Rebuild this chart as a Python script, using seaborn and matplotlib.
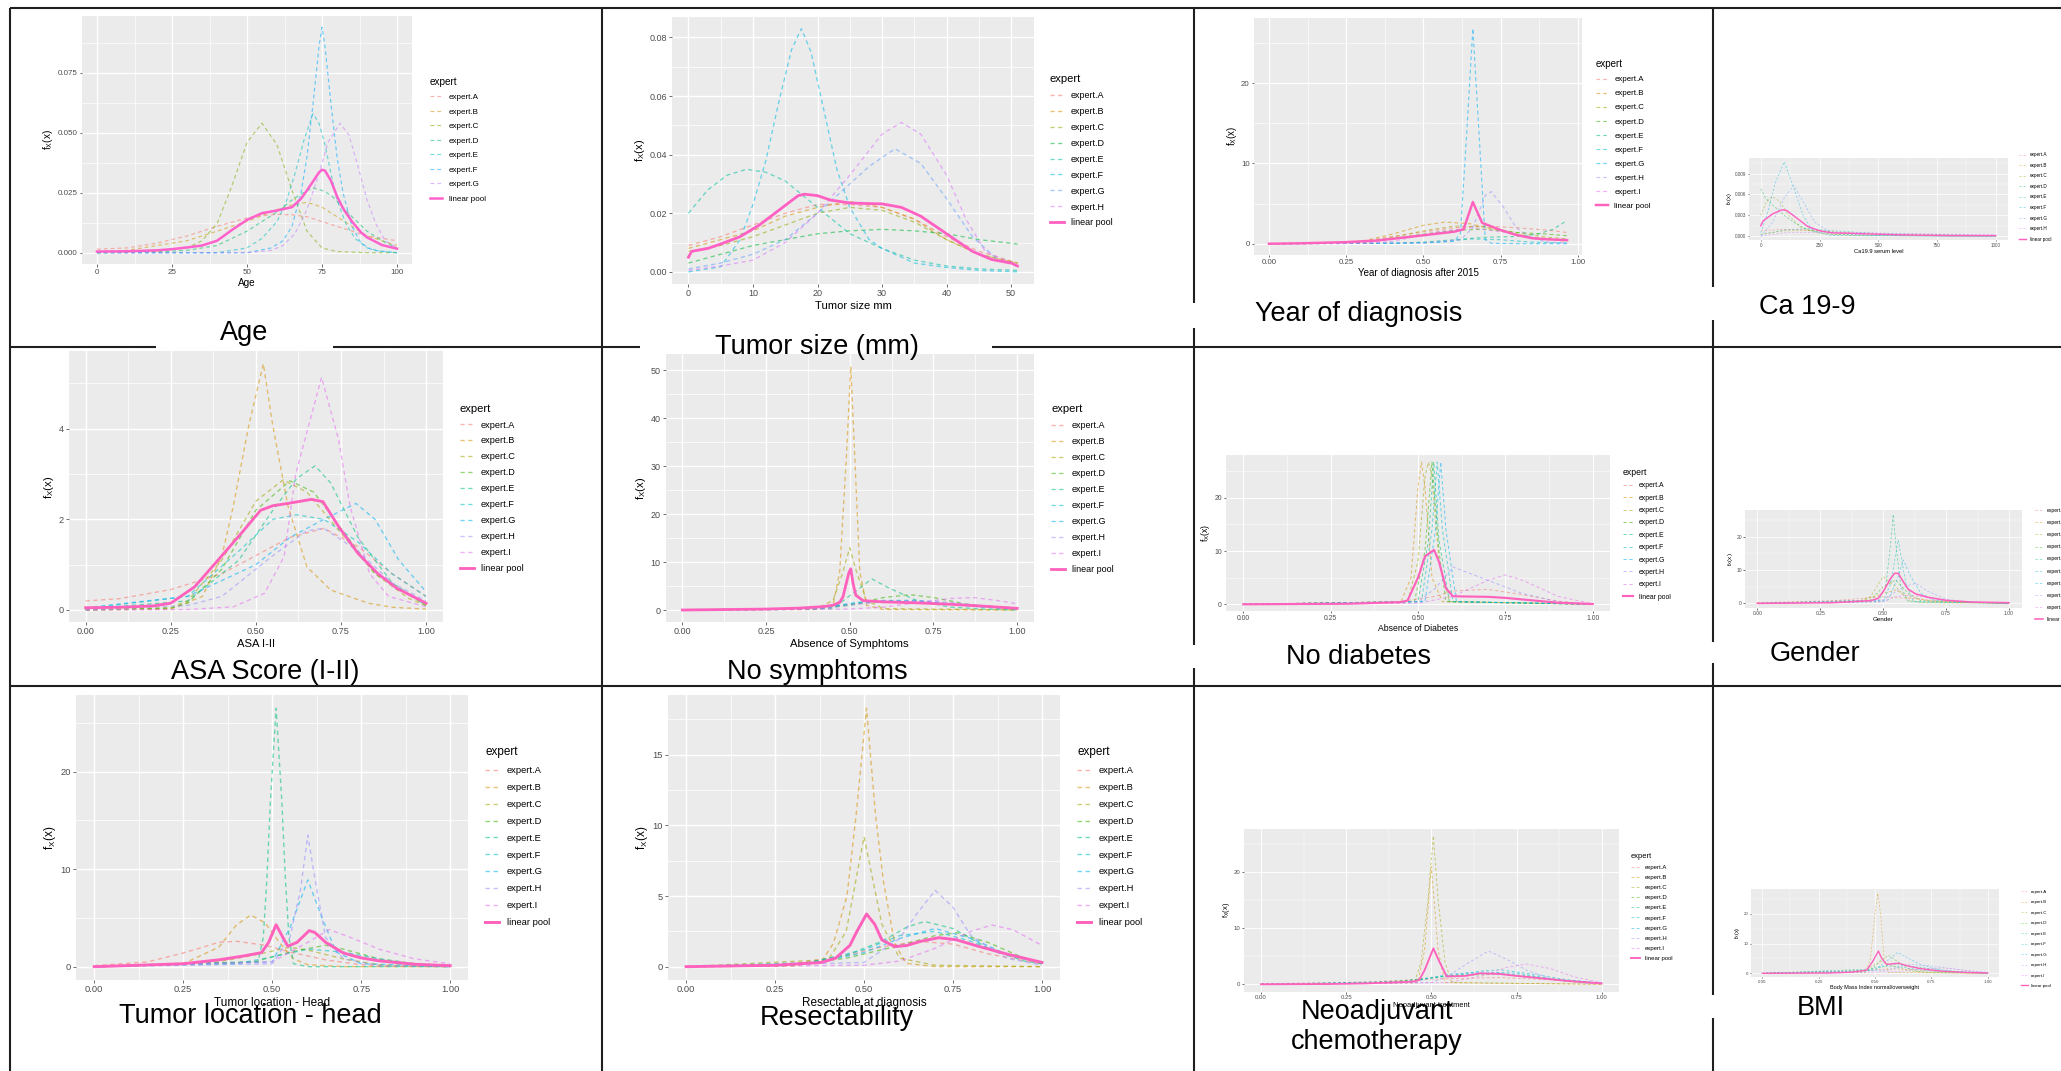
"""
Expert elicitation densities: one ggplot-style panel per variable, laid out in a table.
"""

import matplotlib
matplotlib.use("Agg")
import matplotlib.pyplot as plt
import seaborn as sns

plt.rcParams["font.family"] = ["Liberation Sans", "DejaVu Sans"]
plt.rcParams["mathtext.fontset"] = "custom"
plt.rcParams["mathtext.rm"] = "Liberation Sans"
plt.rcParams["mathtext.it"] = "Liberation Sans:italic"

W, H = 2061, 1071

# ggplot default hue palettes (last colour = linear pool)
HUE8 = ["#F8766D", "#CD9600", "#7CAE00", "#00BE67", "#00BFC4", "#00A9FF", "#C77CFF", "#FF61CC"]
HUE9 = ["#F8766D", "#D39200", "#93AA00", "#00BA38", "#00C19F", "#00B9E3", "#619CFF", "#DB72FB", "#FF61C3"]
HUE10 = ["#F8766D", "#D89000", "#A3A500", "#39B600", "#00BF7D", "#00BFC4", "#00B0F6", "#9590FF", "#E76BF3", "#FF62BC"]

UNIT_TICKS = [0, 0.25, 0.5, 0.75, 1.0]
UNIT_LABELS = ["0.00", "0.25", "0.50", "0.75", "1.00"]

# ---- curves: name -> (x, density) ----
AGE = {
    "expert.A": ([0, 10, 20, 30, 40, 50, 55, 60, 65, 70, 75, 80, 85, 90, 95, 100],
                 [0.0015, 0.002, 0.004, 0.007, 0.011, 0.0145, 0.0155, 0.016, 0.0158, 0.015, 0.013, 0.011, 0.009, 0.007, 0.006, 0.005]),
    "expert.B": ([0, 10, 20, 30, 40, 50, 60, 65, 70, 75, 80, 85, 90, 95, 100],
                 [0.0005, 0.001, 0.003, 0.005, 0.009, 0.013, 0.018, 0.02, 0.021, 0.019, 0.015, 0.011, 0.007, 0.005, 0.003]),
    "expert.C": ([0, 20, 30, 35, 40, 45, 50, 55, 60, 65, 70, 75, 80, 90, 100],
                 [0, 0.0005, 0.002, 0.005, 0.012, 0.028, 0.046, 0.054, 0.045, 0.026, 0.009, 0.002, 0.0005, 0, 0]),
    "expert.D": ([0, 20, 30, 40, 45, 50, 55, 60, 65, 70, 72, 75, 78, 82, 85, 90, 95, 100],
                 [0, 0.0003, 0.001, 0.003, 0.006, 0.009, 0.013, 0.017, 0.022, 0.026, 0.027, 0.026, 0.024, 0.019, 0.015, 0.009, 0.005, 0.002]),
    "expert.E": ([0, 40, 50, 55, 60, 63, 66, 69, 72, 74, 76, 78, 80, 83, 86, 90, 95, 100],
                 [0, 0, 0.002, 0.006, 0.013, 0.021, 0.033, 0.047, 0.058, 0.054, 0.045, 0.033, 0.022, 0.012, 0.006, 0.002, 0.0005, 0]),
    "expert.F": ([0, 50, 58, 62, 65, 68, 70, 72, 74, 75, 76, 78, 80, 82, 85, 88, 92, 100],
                 [0, 0, 0.002, 0.005, 0.011, 0.025, 0.04, 0.062, 0.086, 0.094, 0.086, 0.062, 0.04, 0.025, 0.011, 0.004, 0.001, 0]),
    "expert.G": ([0, 50, 58, 62, 66, 70, 74, 77, 81, 84, 87, 90, 93, 96, 100],
                 [0, 0, 0.001, 0.003, 0.008, 0.018, 0.033, 0.046, 0.054, 0.049, 0.036, 0.022, 0.012, 0.005, 0.002]),
    "linear pool": ([0, 10, 20, 25, 30, 35, 40, 45, 50, 55, 60, 65, 68, 70, 72, 74, 75, 76, 78, 80, 82, 85, 88, 90, 95, 100],
                    [0.0005, 0.0006, 0.001, 0.0015, 0.0022, 0.003, 0.005, 0.0095, 0.0137, 0.0165, 0.0176, 0.019, 0.0225, 0.026,
                     0.0297, 0.0335, 0.0346, 0.0342, 0.03, 0.0235, 0.0185, 0.013, 0.0085, 0.0064, 0.0032, 0.0017]),
}

TUMOR = {
    "expert.A": ([0, 5, 10, 15, 20, 25, 30, 35, 40, 45, 51],
                 [0.009, 0.012, 0.016, 0.02, 0.023, 0.023, 0.022, 0.018, 0.012, 0.007, 0.003]),
    "expert.B": ([0, 5, 10, 15, 20, 25, 30, 35, 40, 45, 51],
                 [0.008, 0.011, 0.014, 0.019, 0.022, 0.024, 0.022, 0.018, 0.011, 0.006, 0.003]),
    "expert.C": ([0, 5, 10, 15, 20, 25, 30, 35, 40, 45, 51],
                 [0.007, 0.009, 0.012, 0.016, 0.02, 0.022, 0.021, 0.017, 0.011, 0.006, 0.003]),
    "expert.D": ([0, 5, 10, 15, 20, 25, 30, 35, 40, 45, 51],
                 [0.003, 0.006, 0.009, 0.011, 0.013, 0.014, 0.0145, 0.014, 0.013, 0.011, 0.0095]),
    "expert.E": ([0, 3, 6, 9, 12, 15, 20, 25, 30, 35, 40, 45, 51],
                 [0.02, 0.028, 0.033, 0.035, 0.034, 0.031, 0.022, 0.013, 0.008, 0.004, 0.002, 0.001, 0.0005]),
    "expert.F": ([0, 5, 8, 10, 12, 14, 16, 17.5, 19, 21, 23, 25, 28, 30, 35, 40, 45, 51],
                 [0, 0.0017, 0.011, 0.023, 0.038, 0.058, 0.076, 0.083, 0.075, 0.055, 0.035, 0.022, 0.011, 0.008, 0.003, 0.0015, 0.0005, 0]),
    "expert.G": ([0, 5, 10, 15, 20, 25, 28, 32, 36, 40, 44, 48, 51],
                 [0.001, 0.003, 0.006, 0.011, 0.02, 0.03, 0.036, 0.042, 0.037, 0.025, 0.012, 0.004, 0.002]),
    "expert.H": ([0, 5, 10, 15, 20, 25, 30, 33, 36, 40, 43, 46, 51],
                 [0.0005, 0.002, 0.004, 0.01, 0.02, 0.033, 0.047, 0.051, 0.047, 0.033, 0.018, 0.007, 0.002]),
    "linear pool": ([0, 0.5, 3, 5, 8, 11, 14, 17, 18, 20, 22, 25, 28, 30, 33, 36, 40, 44, 47, 50, 51],
                    [0.005, 0.007, 0.008, 0.0095, 0.012, 0.016, 0.021, 0.026, 0.0265, 0.026, 0.0245, 0.0235, 0.0233, 0.0232,
                     0.022, 0.019, 0.013, 0.007, 0.0042, 0.003, 0.002]),
}

YEAR = {
    "expert.A": ([0, 0.2, 0.3, 0.45, 0.6, 0.7, 0.8, 0.9, 0.965], [0, 0.1, 0.3, 1.2, 2.0, 2.2, 2.0, 1.7, 1.4]),
    "expert.B": ([0, 0.2, 0.3, 0.4, 0.5, 0.57, 0.65, 0.75, 0.85, 0.965], [0, 0.05, 0.3, 1.2, 2.3, 2.7, 2.5, 1.6, 0.8, 0.3]),
    "expert.C": ([0, 0.3, 0.4, 0.5, 0.6, 0.7, 0.8, 0.9, 0.965], [0, 0.2, 0.8, 1.6, 2.2, 2.1, 1.4, 0.8, 0.6]),
    "expert.D": ([0, 0.3, 0.4, 0.5, 0.6, 0.7, 0.8, 0.9, 0.965], [0, 0.15, 0.6, 1.2, 1.7, 1.8, 1.4, 1.2, 1.0]),
    "expert.E": ([0, 0.4, 0.5, 0.6, 0.7, 0.8, 0.87, 0.92, 0.965], [0, 0.05, 0.2, 0.5, 0.8, 0.9, 1.2, 1.8, 2.9]),
    "expert.F": ([0, 0.4, 0.55, 0.65, 0.75, 0.85, 0.965], [0, 0.05, 0.2, 0.6, 0.5, 0.2, 0.1]),
    "expert.G": ([0, 0.5, 0.6, 0.62, 0.64, 0.66, 0.68, 0.7, 0.72, 0.8, 0.965], [0, 0.1, 0.3, 1.3, 13.7, 26.8, 13.7, 0.5, 0.05, 0, 0]),
    "expert.H": ([0, 0.5, 0.62, 0.66, 0.7, 0.72, 0.76, 0.8, 0.85, 0.9, 0.965], [0, 0.1, 0.5, 2.0, 6.0, 6.5, 4.5, 2.0, 0.7, 0.2, 0.1]),
    "expert.I": ([0, 0.3, 0.4, 0.55, 0.65, 0.75, 0.85, 0.965], [0, 0.05, 0.3, 1.5, 2.0, 1.5, 0.8, 0.4]),
    "linear pool": ([0, 0.1, 0.25, 0.35, 0.5, 0.6, 0.63, 0.66, 0.69, 0.75, 0.8, 0.85, 0.9, 0.965],
                    [0, 0.05, 0.2, 0.4, 1.05, 1.5, 1.8, 5.2, 2.6, 1.7, 1.1, 0.7, 0.55, 0.45]),
}

CA199 = {
    "expert.A": ([0, 100, 200, 300, 500, 750, 1000], [0.0008, 0.001, 0.0009, 0.0006, 0.0003, 0.0002, 0.0001]),
    "expert.B": ([0, 100, 250, 400, 600, 1000], [0.0003, 0.0008, 0.0008, 0.0004, 0.0002, 0.0001]),
    "expert.C": ([0, 25, 50, 80, 120, 170, 250, 400, 1000], [0.003, 0.005, 0.0057, 0.005, 0.003, 0.0013, 0.0004, 0.0001, 0]),
    "expert.D": ([0, 20, 50, 100, 150, 200, 300, 500, 1000], [0.0068, 0.0055, 0.0045, 0.003, 0.0018, 0.0009, 0.0003, 0.0001, 0]),
    "expert.E": ([0, 100, 200, 300, 500, 1000], [0.0002, 0.0009, 0.0011, 0.0008, 0.0004, 0.0001]),
    "expert.F": ([0, 30, 60, 100, 140, 180, 220, 300, 1000], [0.0005, 0.0035, 0.0075, 0.0107, 0.007, 0.003, 0.0008, 0.0001, 0]),
    "expert.G": ([0, 50, 100, 140, 180, 230, 300, 500, 1000], [0, 0.002, 0.0055, 0.0073, 0.005, 0.002, 0.0005, 0.0001, 0]),
    "expert.H": ([0, 100, 300, 600, 1000], [0, 0.0005, 0.0006, 0.0004, 0.0002]),
    "linear pool": ([0, 10, 50, 90, 110, 150, 200, 250, 300, 400, 600, 800, 1000],
                    [0.0015, 0.0022, 0.0032, 0.0038, 0.0037, 0.0027, 0.0014, 0.0008, 0.0005, 0.0004, 0.0002, 0.0001, 0.0001]),
}

ASA = {
    "expert.A": ([0, 0.1, 0.25, 0.4, 0.5, 0.6, 0.7, 0.8, 0.9, 1.0], [0.2, 0.25, 0.45, 0.8, 1.2, 1.6, 1.8, 1.4, 0.8, 0.3]),
    "expert.B": ([0, 0.25, 0.343, 0.4, 0.434, 0.48, 0.522, 0.549, 0.594, 0.65, 0.72, 0.83, 0.9, 1.0],
                 [0, 0.02, 0.3, 1.18, 2.3, 4.1, 5.43, 4.1, 2.3, 0.95, 0.44, 0.15, 0.06, 0.02]),
    "expert.C": ([0, 0.25, 0.3, 0.4, 0.5, 0.58, 0.65, 0.75, 0.85, 0.95, 1.0], [0, 0.05, 0.2, 1.1, 2.4, 2.87, 2.6, 1.7, 0.8, 0.25, 0.1]),
    "expert.D": ([0, 0.25, 0.3, 0.4, 0.5, 0.6, 0.67, 0.75, 0.85, 1.0], [0, 0.04, 0.15, 0.9, 2.2, 2.85, 2.6, 1.8, 0.8, 0.1]),
    "expert.E": ([0, 0.3, 0.45, 0.55, 0.62, 0.674, 0.72, 0.8, 0.9, 1.0], [0.02, 0.2, 1.1, 2.2, 2.9, 3.18, 2.8, 1.6, 0.6, 0.1]),
    "expert.F": ([0, 0.3, 0.45, 0.55, 0.62, 0.7, 0.8, 0.9, 1.0], [0.03, 0.3, 1.3, 2.0, 2.1, 2.0, 1.5, 0.8, 0.3]),
    "expert.G": ([0, 0.3, 0.5, 0.6, 0.7, 0.794, 0.85, 0.92, 1.0], [0.05, 0.3, 1.0, 1.6, 2.0, 2.35, 2.0, 1.1, 0.4]),
    "expert.H": ([0, 0.3, 0.4, 0.55, 0.65, 0.7, 0.8, 0.9, 1.0], [0, 0.1, 0.3, 1.2, 1.75, 1.8, 1.3, 0.6, 0.2]),
    "expert.I": ([0, 0.3, 0.434, 0.526, 0.583, 0.617, 0.693, 0.743, 0.777, 0.834, 0.89, 1.0],
                 [0, 0.01, 0.07, 0.37, 1.18, 3.0, 5.13, 3.75, 2.28, 0.8, 0.3, 0.07]),
    "linear pool": ([0, 0.1, 0.2, 0.25, 0.32, 0.389, 0.457, 0.514, 0.55, 0.594, 0.663, 0.697, 0.743, 0.8, 0.857, 0.914, 1.0],
                    [0.05, 0.06, 0.09, 0.15, 0.51, 1.1, 1.69, 2.2, 2.3, 2.35, 2.44, 2.39, 1.84, 1.25, 0.81, 0.48, 0.15]),
}

SYMPTOMS = {
    "expert.A": ([0, 0.3, 0.45, 0.55, 0.65, 0.75, 0.85, 1.0], [0, 0.3, 0.8, 1.5, 1.8, 1.5, 1.0, 0.4]),
    "expert.B": ([0, 0.4, 0.45, 0.47, 0.49, 0.503, 0.515, 0.53, 0.55, 0.6, 1.0], [0, 0.1, 1, 8, 32, 50.8, 32, 8, 1, 0.1, 0]),
    "expert.C": ([0, 0.4, 0.45, 0.48, 0.5, 0.52, 0.55, 0.6, 1.0], [0, 0.3, 2, 8, 13, 8, 2, 0.3, 0]),
    "expert.D": ([0, 0.4, 0.5, 0.6, 0.68, 0.75, 0.85, 0.95, 1.0], [0, 0.2, 1.0, 2.6, 3.2, 2.6, 1.2, 0.4, 0.2]),
    "expert.E": ([0, 0.45, 0.5, 0.566, 0.62, 0.7, 0.8, 0.9, 1.0], [0, 0.3, 3, 6.5, 4.5, 2, 0.6, 0.2, 0]),
    "expert.F": ([0, 0.4, 0.5, 0.6, 0.7, 0.8, 0.9, 1.0], [0, 0.3, 1.2, 2.0, 2.0, 1.3, 0.6, 0.2]),
    "expert.G": ([0, 0.3, 0.45, 0.52, 0.6, 0.7, 0.8, 0.9, 1.0], [0, 0.1, 0.8, 1.6, 1.9, 1.8, 1.2, 0.6, 0.3]),
    "expert.H": ([0, 0.4, 0.5, 0.6, 0.7, 0.8, 0.9, 1.0], [0, 0.2, 1.0, 1.8, 2.0, 1.6, 0.9, 0.4]),
    "expert.I": ([0, 0.5, 0.6, 0.7, 0.8, 0.87, 0.95, 1.0], [0, 0.2, 0.6, 1.5, 2.4, 2.6, 1.9, 1.3]),
    "linear pool": ([0, 0.25, 0.35, 0.42, 0.45, 0.47, 0.48, 0.497, 0.503, 0.51, 0.518, 0.54, 0.6, 0.7, 0.8, 0.9, 1.0],
                    [0, 0.2, 0.4, 0.7, 1.0, 1.6, 2.8, 7.7, 8.6, 5.5, 3.1, 1.95, 1.7, 1.5, 1.2, 0.8, 0.35]),
}

DIABETES = {
    "expert.A": ([0, 0.45, 0.55, 0.6, 0.7, 0.8, 0.9, 1.0], [0, 0.5, 1.5, 2.5, 2.8, 1.8, 0.6, 0.05]),
    "expert.B": ([0, 0.45, 0.48, 0.5, 0.51, 0.52, 0.54, 0.57, 1.0], [0, 0.3, 5, 22, 26.7, 22, 5, 0.5, 0]),
    "expert.C": ([0, 0.47, 0.5, 0.52, 0.53, 0.54, 0.56, 0.59, 1.0], [0, 0.5, 8, 24, 26.7, 24, 8, 0.5, 0]),
    "expert.D": ([0, 0.49, 0.52, 0.54, 0.56, 0.58, 1.0], [0, 0.5, 10, 26.7, 10, 0.5, 0]),
    "expert.E": ([0, 0.5, 0.53, 0.545, 0.56, 0.59, 1.0], [0, 0.5, 12, 26.7, 12, 0.5, 0]),
    "expert.F": ([0, 0.51, 0.54, 0.555, 0.57, 0.6, 1.0], [0, 0.5, 14, 26.7, 14, 0.5, 0]),
    "expert.G": ([0, 0.52, 0.55, 0.565, 0.58, 0.61, 1.0], [0, 0.5, 14, 26.7, 14, 0.5, 0]),
    "expert.H": ([0, 0.5, 0.55, 0.6, 0.7, 0.8, 0.9, 1.0], [0, 0.5, 3, 7, 4.5, 2, 0.5, 0]),
    "expert.I": ([0, 0.5, 0.6, 0.7, 0.75, 0.8, 0.9, 1.0], [0, 0.2, 1.5, 4.5, 5.5, 4.5, 1.5, 0.1]),
    "linear pool": ([0, 0.3, 0.45, 0.47, 0.5, 0.52, 0.546, 0.56, 0.58, 0.6, 0.7, 0.75, 0.8, 0.85, 0.9, 1.0],
                    [0, 0.1, 0.4, 0.7, 5, 9, 10.2, 8, 3, 1.5, 1.4, 1.2, 0.9, 0.6, 0.3, 0.05]),
}

GENDER = {
    "expert.A": ([0, 0.3, 0.5, 0.6, 0.8, 1.0], [0.2, 0.8, 2, 1.5, 0.3, 0]),
    "expert.B": ([0, 0.4, 0.5, 0.55, 0.6, 0.7, 1.0], [0, 0.5, 3, 4, 2, 0.5, 0]),
    "expert.C": ([0, 0.4, 0.45, 0.5, 0.55, 0.6, 0.65, 1.0], [0, 0.5, 2, 8, 5, 1, 0.2, 0]),
    "expert.D": ([0, 0.45, 0.5, 0.55, 0.6, 0.65, 1.0], [0, 1, 5, 7, 3, 0.8, 0]),
    "expert.E": ([0, 0.48, 0.51, 0.53, 0.54, 0.55, 0.57, 0.6, 1.0], [0, 0.5, 5, 18, 26.7, 18, 5, 0.5, 0]),
    "expert.F": ([0, 0.5, 0.53, 0.56, 0.59, 0.62, 1.0], [0, 0.5, 6, 19, 6, 0.5, 0]),
    "expert.G": ([0, 0.52, 0.56, 0.58, 0.61, 0.65, 0.7, 1.0], [0, 1, 8, 13, 8, 3, 1, 0]),
    "expert.H": ([0, 0.5, 0.58, 0.63, 0.68, 0.75, 0.85, 1.0], [0, 1, 5, 6, 3.5, 1.2, 0.3, 0]),
    "expert.I": ([0, 0.5, 0.55, 0.6, 0.7, 0.8, 1.0], [0, 0.5, 2, 2.5, 1.5, 0.5, 0.1]),
    "linear pool": ([0, 0.3, 0.45, 0.48, 0.5, 0.53, 0.545, 0.56, 0.58, 0.6, 0.63, 0.68, 0.75, 0.85, 1.0],
                    [0, 0.2, 0.8, 1.5, 3.5, 7.5, 9, 9, 6.5, 4.2, 2.8, 1.8, 0.9, 0.4, 0.2]),
}

LOCATION = {
    "expert.A": ([0, 0.15, 0.25, 0.35, 0.4, 0.48, 0.55, 0.65, 0.75, 0.85, 1.0], [0.1, 0.5, 1.4, 2.5, 2.6, 2.2, 1.5, 0.7, 0.2, 0.05, 0]),
    "expert.B": ([0, 0.25, 0.35, 0.4, 0.44, 0.48, 0.52, 0.56, 0.6, 0.7, 1.0], [0, 0.3, 2, 4.3, 5.3, 4.5, 2.5, 0.8, 0.2, 0, 0]),
    "expert.C": ([0, 0.35, 0.45, 0.55, 0.6, 0.7, 0.8, 1.0], [0, 0.5, 1.2, 2.0, 1.7, 0.8, 0.2, 0]),
    "expert.D": ([0, 0.45, 0.55, 0.65, 0.7, 0.8, 0.9, 1.0], [0, 0.5, 1.5, 2.2, 1.8, 0.8, 0.3, 0.1]),
    "expert.E": ([0, 0.46, 0.475, 0.485, 0.495, 0.511, 0.527, 0.537, 0.547, 0.56, 0.6, 1.0], [0, 0.5, 3, 9, 17, 26.5, 17, 9, 3, 0.3, 0, 0]),
    "expert.F": ([0, 0.4, 0.5, 0.6, 0.7, 0.8, 0.9, 1.0], [0, 0.3, 1.0, 1.8, 1.5, 0.8, 0.3, 0.1]),
    "expert.G": ([0, 0.5, 0.55, 0.6, 0.64, 0.68, 0.75, 1.0], [0, 0.5, 4, 8.9, 5, 1.5, 0.3, 0]),
    "expert.H": ([0, 0.5, 0.55, 0.58, 0.6, 0.62, 0.65, 0.7, 0.8, 1.0], [0, 0.3, 3, 8, 13.5, 9, 3, 0.8, 0.1, 0]),
    "expert.I": ([0, 0.5, 0.6, 0.66, 0.72, 0.8, 0.9, 1.0], [0, 0.5, 2.5, 3.8, 3.0, 1.8, 0.8, 0.3]),
    "linear pool": ([0, 0.25, 0.35, 0.42, 0.47, 0.49, 0.511, 0.53, 0.544, 0.57, 0.604, 0.62, 0.65, 0.7, 0.75, 0.8, 0.9, 1.0],
                    [0, 0.3, 0.7, 1.1, 1.44, 2.5, 4.3, 3.0, 2.1, 2.5, 3.7, 3.5, 2.5, 1.4, 0.9, 0.6, 0.25, 0.1]),
}

RESECT = {
    "expert.A": ([0, 0.3, 0.45, 0.55, 0.65, 0.75, 0.85, 1.0], [0, 0.2, 0.8, 1.4, 1.8, 1.6, 0.9, 0.2]),
    "expert.B": ([0, 0.3, 0.38, 0.414, 0.452, 0.478, 0.507, 0.532, 0.554, 0.586, 0.618, 0.7, 1.0],
                 [0, 0.05, 0.35, 1.65, 5, 10.8, 18.3, 10.8, 6.1, 1.65, 0.24, 0, 0]),
    "expert.C": ([0, 0.4, 0.45, 0.5, 0.55, 0.6, 0.7, 1.0], [0, 0.5, 2.5, 9.2, 3, 0.6, 0.1, 0]),
    "expert.D": ([0, 0.3, 0.45, 0.6, 0.7, 0.76, 0.85, 0.95, 1.0], [0, 0.1, 0.6, 1.5, 2.2, 2.4, 1.7, 0.6, 0.2]),
    "expert.E": ([0, 0.3, 0.45, 0.55, 0.62, 0.67, 0.75, 0.85, 0.95, 1.0], [0, 0.1, 0.8, 1.8, 2.8, 3.2, 2.7, 1.3, 0.4, 0.2]),
    "expert.F": ([0, 0.35, 0.5, 0.6, 0.7, 0.8, 0.9, 1.0], [0, 0.3, 1.2, 2.2, 2.5, 1.8, 0.8, 0.3]),
    "expert.G": ([0, 0.35, 0.5, 0.6, 0.7, 0.8, 0.9, 1.0], [0, 0.2, 1.0, 2.0, 2.7, 2.0, 0.9, 0.3]),
    "expert.H": ([0, 0.5, 0.6, 0.65, 0.7, 0.75, 0.8, 0.9, 1.0], [0, 0.3, 2.0, 3.8, 5.4, 4.2, 2.2, 0.6, 0.1]),
    "expert.I": ([0, 0.5, 0.6, 0.7, 0.8, 0.86, 0.92, 1.0], [0, 0.1, 0.4, 1.3, 2.5, 2.95, 2.6, 1.5]),
    "linear pool": ([0, 0.25, 0.38, 0.42, 0.46, 0.48, 0.5, 0.507, 0.53, 0.55, 0.586, 0.62, 0.66, 0.71, 0.76, 0.82, 0.9, 1.0],
                    [0, 0.1, 0.3, 0.6, 1.5, 2.5, 3.4, 3.73, 3.0, 1.9, 1.42, 1.5, 1.8, 2.05, 1.9, 1.45, 0.9, 0.3]),
}

NEOADJ = {
    "expert.A": ([0, 0.3, 0.45, 0.55, 0.7, 0.85, 1.0], [0.1, 0.4, 0.8, 1.0, 1.2, 0.8, 0.2]),
    "expert.B": ([0, 0.46, 0.48, 0.5, 0.52, 0.54, 1.0], [0, 0.3, 6, 21, 6, 0.3, 0]),
    "expert.C": ([0, 0.45, 0.47, 0.49, 0.506, 0.52, 0.54, 0.56, 1.0], [0, 0.3, 4, 15, 26.5, 15, 4, 0.3, 0]),
    "expert.D": ([0, 0.3, 0.45, 0.55, 0.7, 0.8, 0.9, 1.0], [0, 0.2, 0.8, 1.5, 1.8, 1.2, 0.5, 0.1]),
    "expert.E": ([0, 0.4, 0.5, 0.6, 0.7, 0.8, 0.9, 1.0], [0, 0.5, 1.2, 1.8, 2.0, 1.4, 0.6, 0.2]),
    "expert.F": ([0, 0.4, 0.55, 0.65, 0.7, 0.8, 0.9, 1.0], [0, 0.3, 1.5, 2.4, 2.6, 1.8, 0.8, 0.2]),
    "expert.G": ([0, 0.45, 0.55, 0.65, 0.75, 0.85, 1.0], [0, 0.5, 1.8, 2.2, 2.0, 1.0, 0.2]),
    "expert.H": ([0, 0.5, 0.55, 0.6, 0.667, 0.72, 0.78, 0.85, 0.95, 1.0], [0, 0.3, 1.5, 3.5, 5.95, 4.5, 2.5, 1.0, 0.2, 0.1]),
    "expert.I": ([0, 0.55, 0.65, 0.72, 0.78, 0.85, 0.92, 1.0], [0, 0.3, 1.5, 3.0, 3.6, 2.8, 1.3, 0.3]),
    "linear pool": ([0, 0.2, 0.3, 0.4, 0.45, 0.465, 0.48, 0.506, 0.52, 0.545, 0.6, 0.643, 0.7, 0.75, 0.8, 0.9, 1.0],
                    [0, 0.05, 0.15, 0.35, 0.5, 0.8, 2.5, 6.4, 4.5, 1.4, 1.5, 1.96, 1.85, 1.5, 1.2, 0.6, 0.15]),
}

BMI = {
    "expert.A": ([0, 0.4, 0.5, 0.6, 0.7, 0.85, 1.0], [0, 0.5, 1.2, 1.5, 1.0, 0.4, 0.1]),
    "expert.B": ([0, 0.46, 0.48, 0.5, 0.512, 0.525, 0.54, 0.56, 1.0], [0, 0.3, 5, 20, 27, 20, 5, 0.3, 0]),
    "expert.C": ([0, 0.45, 0.5, 0.53, 0.58, 0.65, 0.75, 1.0], [0, 0.5, 3, 4, 2.5, 0.8, 0.2, 0]),
    "expert.D": ([0, 0.48, 0.52, 0.56, 0.6, 0.65, 0.7, 1.0], [0, 1, 4, 6, 4, 1.5, 0.5, 0]),
    "expert.E": ([0, 0.5, 0.58, 0.65, 0.75, 0.85, 1.0], [0, 1.5, 3, 2.5, 1.5, 0.7, 0.2]),
    "expert.F": ([0, 0.45, 0.5, 0.55, 0.62, 0.7, 0.8, 1.0], [0, 0.5, 2, 2.5, 2, 1.2, 0.5, 0.1]),
    "expert.G": ([0, 0.5, 0.55, 0.6, 0.65, 0.7, 0.8, 0.9, 1.0], [0, 1, 4, 7, 5, 3, 1, 0.3, 0]),
    "expert.H": ([0, 0.55, 0.65, 0.75, 0.85, 0.95, 1.0], [0, 1, 3, 2.5, 1.5, 0.5, 0.3]),
    "expert.I": ([0, 0.6, 0.7, 0.8, 0.9, 1.0], [0, 0.5, 1.5, 1.8, 1.0, 0.3]),
    "linear pool": ([0, 0.3, 0.4, 0.463, 0.49, 0.515, 0.53, 0.552, 0.604, 0.65, 0.7, 0.75, 0.8, 0.9, 1.0],
                    [0, 0.1, 0.4, 1.1, 4, 7.5, 5, 3.0, 3.4, 2.4, 1.6, 1.1, 0.7, 0.3, 0.1]),
}

# ---- layout of each pasted ggplot picture (pixels of the 2061x1071 page) ----
PANELS = [
    dict(curves=AGE, colors=HUE8, rect=(82, 16, 412, 264), s=1.0, xlabel="Age",
         xticks=[0, 25, 50, 75, 100], xlabels=["0", "25", "50", "75", "100"],
         yticks=[0, 0.025, 0.05, 0.075], ylabels=["0.000", "0.025", "0.050", "0.075"],
         leg=(430, True, 97, 14.6)),
    dict(curves=TUMOR, colors=HUE9, rect=(672, 16.5, 1034, 284), s=1.12, xlabel="Tumor size mm",
         xticks=[0, 10, 20, 30, 40, 50], xlabels=["0", "10", "20", "30", "40", "50"],
         yticks=[0, 0.02, 0.04, 0.06, 0.08], ylabels=["0.00", "0.02", "0.04", "0.06", "0.08"],
         leg=(1050, True, 96, 15.6)),
    dict(curves=YEAR, colors=HUE10, rect=(1254, 17.7, 1582, 254.5), s=0.98, xlabel="Year of diagnosis after 2015",
         xticks=UNIT_TICKS, xlabels=UNIT_LABELS, yticks=[0, 10, 20], ylabels=["0", "10", "20"],
         leg=(1596, True, 79, 14.1)),
    dict(curves=CA199, colors=HUE9, rect=(1749, 158, 2007.5, 240), s=0.58, xlabel="Ca19.9 serum level",
         xticks=[0, 250, 500, 750, 1000], xlabels=["0", "250", "500", "750", "1000"],
         yticks=[0, 0.003, 0.006, 0.009], ylabels=["0.000", "0.003", "0.006", "0.009"],
         leg=(2019, False, 155, 10)),
    dict(curves=ASA, colors=HUE10, rect=(68.6, 351.5, 443.1, 622.3), s=1.13, xlabel="ASA I-II",
         xticks=UNIT_TICKS, xlabels=UNIT_LABELS, yticks=[0, 2, 4], ylabels=["0", "2", "4"],
         leg=(460, True, 425.7, 15.7)),
    dict(curves=SYMPTOMS, colors=HUE10, rect=(665.6, 354.3, 1033.9, 622.2), s=1.12, xlabel="Absence of Symphtoms",
         xticks=UNIT_TICKS, xlabels=UNIT_LABELS, yticks=[0, 10, 20, 30, 40, 50],
         ylabels=["0", "10", "20", "30", "40", "50"], leg=(1051, True, 425.7, 15.7)),
    dict(curves=DIABETES, colors=HUE10, rect=(1225.8, 454.9, 1610.2, 611.4), s=0.86, xlabel="Absence of Diabetes",
         xticks=UNIT_TICKS, xlabels=UNIT_LABELS, yticks=[0, 10, 20], ylabels=["0", "10", "20"],
         leg=(1623, True, 485, 12)),
    dict(curves=GENDER, colors=HUE10, rect=(1744.7, 509.9, 2021.6, 607.8), s=0.63, xlabel="Gender",
         xticks=UNIT_TICKS, xlabels=UNIT_LABELS, yticks=[0, 10, 20], ylabels=["0", "10", "20"],
         leg=(2035, False, 510.7, 12)),
    dict(curves=LOCATION, colors=HUE10, rect=(76.4, 695.4, 468, 979.6), s=1.17, xlabel="Tumor location - Head",
         xticks=UNIT_TICKS, xlabels=UNIT_LABELS, yticks=[0, 10, 20], ylabels=["0", "10", "20"],
         leg=(485, True, 770, 16.9)),
    dict(curves=RESECT, colors=HUE10, rect=(668.3, 695.2, 1059.8, 979.6), s=1.17, xlabel="Resectable at diagnosis",
         xticks=UNIT_TICKS, xlabels=UNIT_LABELS, yticks=[0, 5, 10, 15], ylabels=["0", "5", "10", "15"],
         leg=(1077, True, 770, 16.9)),
    dict(curves=NEOADJ, colors=HUE10, rect=(1244, 828.5, 1618.7, 991.7), s=0.75, xlabel="Neoadjuvant treatment",
         xticks=UNIT_TICKS, xlabels=UNIT_LABELS, yticks=[0, 10, 20], ylabels=["0", "10", "20"],
         leg=(1631, True, 867.7, 10.7)),
    dict(curves=BMI, colors=HUE10, rect=(1751, 889.2, 1999, 977.3), s=0.55, xlabel="Body Mass Index normal/overweight",
         xticks=UNIT_TICKS, xlabels=UNIT_LABELS, yticks=[0, 10, 20], ylabels=["0", "10", "20"],
         leg=(2021, False, 892.3, 10.6)),
]

# big captions under each picture: (text, x, y, ha)
CAPTIONS = [
    ("Age", 244, 333, "center"),
    ("Tumor size (mm)", 817, 347, "center"),
    ("Year of diagnosis", 1255, 314, "left"),
    ("Ca 19-9", 1759, 307, "left"),
    ("ASA Score (I-II)", 265, 672, "center"),
    ("No symphtoms", 817, 672, "center"),
    ("No diabetes", 1286, 657, "left"),
    ("Gender", 1770, 654, "left"),
    ("Tumor location - head", 250, 1016, "center"),
    ("Resectability", 837, 1018, "center"),
    ("Neoadjuvant\nchemotherapy", 1377, 1027, "center"),
    ("BMI", 1797, 1008, "left"),
]

# table rules, with the gaps left by the caption boxes
H_RULES = [(8, 10, 2061), (347, 10, 156), (347, 333, 640), (347, 992, 2061), (686, 10, 2061)]
V_RULES = [(10, 8, 1071), (602, 8, 1071),
           (1194, 8, 303), (1194, 328, 645), (1194, 668, 1071),
           (1713, 8, 287), (1713, 320, 642), (1713, 663, 995), (1713, 1018, 1071)]


def minor_breaks(major, lo, hi):
    step = major[1] - major[0]
    out, v = [], major[0] - step / 2
    while v <= hi:
        if v >= lo:
            out.append(v)
        v += step
    return out


def draw_panel(fig, p):
    l, t, r, b = p["rect"]
    s = p["s"]
    ax = fig.add_axes([l / W, 1 - b / H, (r - l) / W, (b - t) / H])
    ax.set_facecolor("#EBEBEB")

    for (name, (xv, yv)), col in zip(p["curves"].items(), p["colors"]):
        pool = name == "linear pool"
        sns.lineplot(x=xv, y=yv, ax=ax, color=col, estimator=None, sort=False,
                     linewidth=1.8 * s if pool else 0.85 * s,
                     linestyle="-" if pool else (0, (3.2, 2.6)),
                     alpha=1.0 if pool else 0.55, label=name,
                     zorder=3 if pool else 2)

    # ggplot-like 5 % expansion of the data range
    xs = [v for xv, _ in p["curves"].values() for v in xv]
    ys = [v for _, yv in p["curves"].values() for v in yv]
    xlo, xhi = min(xs), max(xs)
    ylo, yhi = min(ys), max(ys)
    xlim = (xlo - 0.05 * (xhi - xlo), xhi + 0.05 * (xhi - xlo))
    ylim = (ylo - 0.05 * (yhi - ylo), yhi + 0.05 * (yhi - ylo))
    ax.set_xlim(*xlim)
    ax.set_ylim(*ylim)

    ax.set_xticks(p["xticks"])
    ax.set_xticklabels(p["xlabels"])
    ax.set_yticks(p["yticks"])
    ax.set_yticklabels(p["ylabels"])
    ax.set_xticks(minor_breaks(p["xticks"], *xlim), minor=True)
    ax.set_yticks(minor_breaks(p["yticks"], *ylim), minor=True)
    ax.grid(which="major", color="white", linewidth=0.9 * s)
    ax.grid(which="minor", color="white", linewidth=0.45 * s)
    ax.set_axisbelow(True)
    ax.tick_params(which="minor", length=0)
    ax.tick_params(which="major", length=1.8 * s, width=0.5, color="#333333",
                   labelsize=5.8 * s, labelcolor="#4D4D4D", pad=1.45 * s)
    for sp in ax.spines.values():
        sp.set_visible(False)

    ax.set_xlabel(p["xlabel"], fontsize=7.2 * s, labelpad=1.8 * s)
    ax.set_ylabel(r"$\mathrm{f_X(x)}$", fontsize=7.2 * s, labelpad=1.8 * s)

    # legend: key x, title shown, centre of first entry, row pitch (page pixels)
    kx, has_title, first, pitch = p["leg"]
    fs, tfs = 5.8 * s, 7.2 * s
    fs_px, tfs_px = fs * 100 / 72, tfs * 100 / 72
    ls = pitch / fs_px - 0.96
    top = first - 0.55 * fs_px
    if has_title:
        top -= ls * fs_px + 0.9 * tfs_px
    handles, labels = ax.get_legend_handles_labels()
    ax.legend(handles, labels, loc="upper left", bbox_to_anchor=(kx / W, 1 - top / H),
              bbox_transform=fig.transFigure, frameon=False, borderpad=0, borderaxespad=0,
              fontsize=fs, title="expert" if has_title else None, title_fontsize=tfs,
              labelspacing=ls, handlelength=1.5, handletextpad=0.8, alignment="left")


fig = plt.figure(figsize=(W / 100, H / 100), dpi=100, facecolor="white")

for p in PANELS:
    draw_panel(fig, p)

# overlay for the table rules and captions
over = fig.add_axes([0, 0, 1, 1], zorder=10)
over.set_xlim(0, W)
over.set_ylim(H, 0)
over.axis("off")
over.patch.set_alpha(0)
for y, x0, x1 in H_RULES:
    over.plot([x0, x1], [y, y], color="#1F1F1F", linewidth=1.5, solid_capstyle="butt")
for x, y0, y1 in V_RULES:
    over.plot([x, x], [y0, y1], color="#1F1F1F", linewidth=1.5, solid_capstyle="butt")
for text, x, y, ha in CAPTIONS:
    over.text(x, y, text, ha=ha, va="center", fontsize=19.5, color="black",
              linespacing=1.2, multialignment="center")

fig.savefig("out.png", dpi=100, facecolor="white")
